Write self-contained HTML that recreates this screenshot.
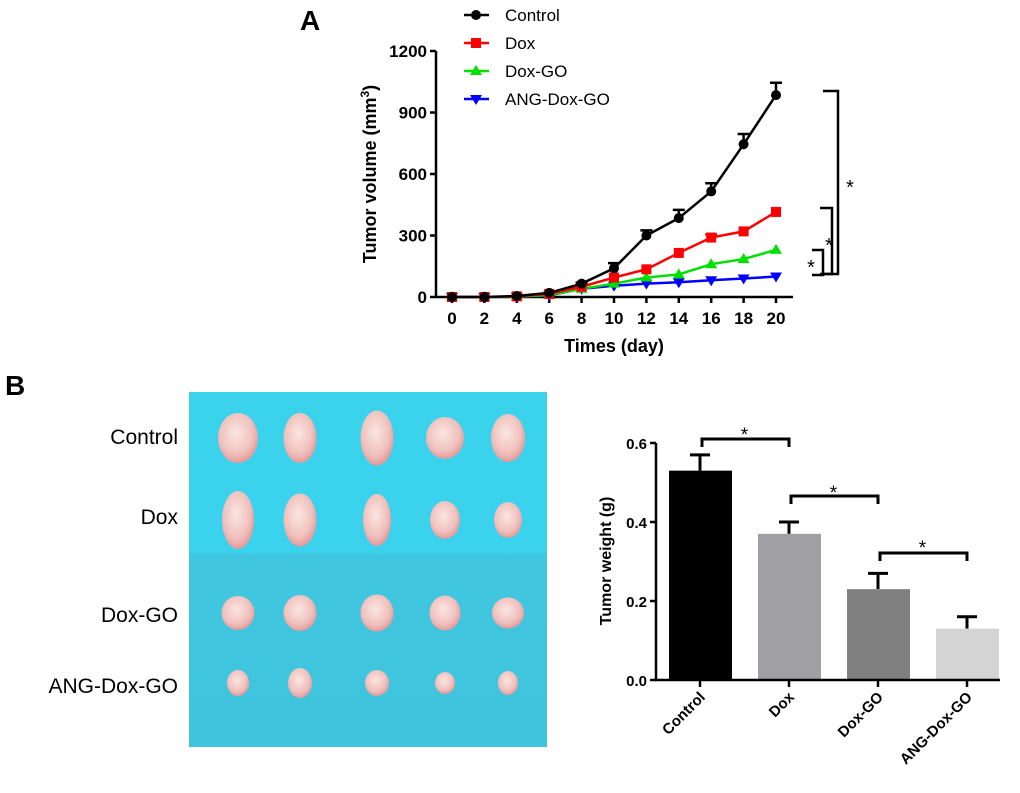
<!DOCTYPE html>
<html><head><meta charset="utf-8"><style>
body{margin:0;background:#fff;width:1020px;height:788px;overflow:hidden;font-family:"Liberation Sans",Arial,sans-serif}
svg text{font-family:"Liberation Sans",Arial,sans-serif}
</style></head><body>
<svg id="fig" width="1020" height="788" viewBox="0 0 1020 788" xmlns="http://www.w3.org/2000/svg">
<text x="300" y="30" font-size="28" font-weight="bold">A</text>
<text x="5" y="395" font-size="28" font-weight="bold">B</text>
<g id="lineChart"></g>
<g id="photo"></g>
<g id="barChart"></g>
</svg>
<script>
const days=[0,2,4,6,8,10,12,14,16,18,20];
const seriesNames=["Control","Dox","Dox-GO","ANG-Dox-GO"];
const controlVals=[0,0,5,20,65,140,300,385,515,745,985];
const controlErr=[0,0,0,0,5,25,25,40,40,50,60];
const doxVals=[0,0,3,15,50,95,135,215,290,320,415];
const doxErr=[0,0,0,0,0,0,0,0,15,0,0];
const doxgoVals=[0,0,2,10,40,65,95,110,160,185,230];
const angVals=[0,0,2,8,40,55,65,72,82,90,100];
const yTicks=[0,300,600,900,1200];
const barCats=["Control","Dox","Dox-GO","ANG-Dox-GO"];
const barVals=[0.53,0.37,0.23,0.13];
const barErr=[0.04,0.03,0.04,0.03];
const barTicks=[0.0,0.2,0.4,0.6];
const NS="http://www.w3.org/2000/svg";
function mk(p,t,a){const e=document.createElementNS(NS,t);for(const k in a)e.setAttribute(k,a[k]);p.appendChild(e);return e;}
const L=document.getElementById('lineChart');
const xs=d=>452+(d-0)*(776-452)/20, ys=v=>297-v*(297-51)/1200;
let ax=mk(L,'path',{d:`M436,51V297H793`,stroke:'#000','stroke-width':2.5,fill:'none'});


yTicks.forEach(t=>{mk(L,'line',{x1:430,x2:436,y1:ys(t),y2:ys(t),stroke:'#000','stroke-width':2.5});
 const tx=mk(L,'text',{x:427,y:ys(t)+6,'text-anchor':'end','font-size':17,'font-weight':'bold'});tx.textContent=t;
 });
days.forEach(d=>{mk(L,'line',{x1:xs(d),x2:xs(d),y1:297,y2:303,stroke:'#000','stroke-width':2.5});
 const tx=mk(L,'text',{x:xs(d),y:324,'text-anchor':'middle','font-size':17,'font-weight':'bold'});tx.textContent=d;
 });
let xt=mk(L,'text',{x:614,y:352,'text-anchor':'middle','font-size':18,'font-weight':'bold'});xt.textContent='Times (day)';

let yt=mk(L,'text',{x:0,y:0,transform:'translate(376,174) rotate(-90)','text-anchor':'middle','font-size':18,'font-weight':'bold'});
yt.innerHTML='Tumor volume (mm<tspan dy="-7" font-size="12">3</tspan><tspan dy="7">)</tspan>';

function marker(g,type,x,y,c){
 if(type==0)return mk(g,'circle',{cx:x,cy:y,r:5,fill:c});
 if(type==1)return mk(g,'rect',{x:x-5,y:y-5,width:10,height:10,fill:c});
 if(type==2)return mk(g,'path',{d:`M${x},${y-6}L${x+6},${y+4}L${x-6},${y+4}Z`,fill:c});
 return mk(g,'path',{d:`M${x},${y+6}L${x+6},${y-4}L${x-6},${y-4}Z`,fill:c});}
const all=[[angVals,null,'#0000ff',3],[doxgoVals,null,'#00e000',2],[doxVals,doxErr,'#ff0000',1],[controlVals,controlErr,'#000',0]];
all.forEach(([v,e,c,t])=>{
 const g=mk(L,'g',{});
 if(e)days.forEach((d,i)=>{if(e[i]>0){mk(g,'path',{d:`M${xs(d)},${ys(v[i])}V${ys(v[i]+e[i])}M${xs(d)-6},${ys(v[i]+e[i])}H${xs(d)+6}`,stroke:c,'stroke-width':2.5,fill:'none'});}});
 mk(g,'polyline',{points:days.map((d,i)=>xs(d)+','+ys(v[i])).join(' '),stroke:c,'stroke-width':2.5,fill:'none'});
 days.forEach((d,i)=>{const m=marker(g,t,xs(d),ys(v[i]),c);});
});
const legC=['#000','#ff0000','#00e000','#0000ff'];
seriesNames.forEach((n,i)=>{const y=15+i*28;const g=mk(L,'g',{});
 
 mk(g,'line',{x1:464,x2:489,y1:y,y2:y,stroke:legC[i],'stroke-width':2.5});marker(g,i,476,y,legC[i]);
 const tx=mk(g,'text',{x:505,y:y+6,'font-size':17});tx.textContent=n;});
const br=[[823,838,91,274,850,194],[820,832,208,274,829,252],[812,823,250,275,811,274]];
br.forEach(b=>{const g=mk(L,'g',{});
 mk(g,'path',{d:`M${b[0]},${b[2]}H${b[1]}V${b[3]}H${b[0]}`,stroke:'#000','stroke-width':2.5,fill:'none'});
 const s=mk(g,'text',{x:b[4],y:b[5],'font-size':20,'text-anchor':'middle'});s.textContent='*';});
const P=document.getElementById('photo');
const defs=mk(P,'defs',{});
const lg=mk(defs,'linearGradient',{id:'bg',x1:0,y1:0,x2:0,y2:1});
mk(lg,'stop',{offset:'0','stop-color':'#3bd3ec'});mk(lg,'stop',{offset:'0.45','stop-color':'#3ad2ec'});
mk(lg,'stop',{offset:'0.46','stop-color':'#41c6df'});mk(lg,'stop',{offset:'1','stop-color':'#40c4de'});
const rg=mk(defs,'radialGradient',{id:'tm',cx:'0.45',cy:'0.4',r:'0.6'});
mk(rg,'stop',{offset:'0','stop-color':'#fbe6e2'});mk(rg,'stop',{offset:'0.7','stop-color':'#efc0bd'});mk(rg,'stop',{offset:'1','stop-color':'#e49a9a'});
mk(P,'rect',{x:189,y:392,width:358,height:355,fill:'url(#bg)'});
const rowsY=[438,520,613,683],colsX=[238,300,377,445,508];
const sz=[[[40,50],[33,50],[33,55],[38,42],[34,48]],[[32,58],[33,53],[28,52],[30,38],[28,36]],[[33,34],[33,36],[33,37],[31,35],[32,31]],[[22,26],[24,30],[24,26],[20,22],[20,24]]];
rowsY.forEach((y,r)=>colsX.forEach((x,c)=>{const e=mk(P,'ellipse',{cx:x,cy:y,rx:sz[r][c][0]/2,ry:sz[r][c][1]/2,fill:'url(#tm)'});
 }));
[['Control',444],['Dox',524],['Dox-GO',622],['ANG-Dox-GO',693]].forEach(([n,y])=>{const t=mk(P,'text',{x:178,y:y,'text-anchor':'end','font-size':21});t.textContent=n;
 });
const B=document.getElementById('barChart');
const by=v=>680-v*(680-443)/0.6, bx=i=>700+i*89;
const bcol=['#000','#a0a0a4','#808080','#d4d4d4'];
barCats.forEach((c,i)=>{
 mk(B,'path',{d:`M${bx(i)},${by(barVals[i])}V${by(barVals[i]+barErr[i])}M${bx(i)-10},${by(barVals[i]+barErr[i])}H${bx(i)+10}`,stroke:'#000','stroke-width':3,fill:'none'});
 const r=mk(B,'rect',{x:bx(i)-31,y:by(barVals[i]),width:63,height:680-by(barVals[i]),fill:bcol[i]});
 
 mk(B,'line',{x1:bx(i),x2:bx(i),y1:680,y2:687,stroke:'#000','stroke-width':2.5});
 const t=mk(B,'text',{x:0,y:0,transform:`translate(${bx(i)+6},${698}) rotate(-45)`,'text-anchor':'end','font-size':15,'font-weight':'bold'});t.textContent=c;
 });
mk(B,'path',{d:'M656,443V680H1000',stroke:'#000','stroke-width':2.5,fill:'none'});
barTicks.forEach(t=>{mk(B,'line',{x1:650,x2:656,y1:by(t),y2:by(t),stroke:'#000','stroke-width':2.5});
 const tx=mk(B,'text',{x:647,y:by(t)+6,'text-anchor':'end','font-size':15,'font-weight':'bold'});tx.textContent=t.toFixed(1);
 });
let byt=mk(B,'text',{x:0,y:0,transform:'translate(611,561) rotate(-90)','text-anchor':'middle','font-size':16,'font-weight':'bold'});byt.textContent='Tumor weight (g)';

[[0,439,436],[1,496,494],[2,553,549]].forEach(([i,yb,ys2])=>{const g=mk(B,'g',{});
 mk(g,'path',{d:`M${bx(i)+2},${yb+8}V${yb}H${bx(i+1)}V${yb+8}`,stroke:'#000','stroke-width':3,fill:'none'});
 const s=mk(g,'text',{x:(bx(i)+bx(i+1))/2,y:ys2+5,'text-anchor':'middle','font-size':19});s.textContent='*';});
</script>
</body></html>
